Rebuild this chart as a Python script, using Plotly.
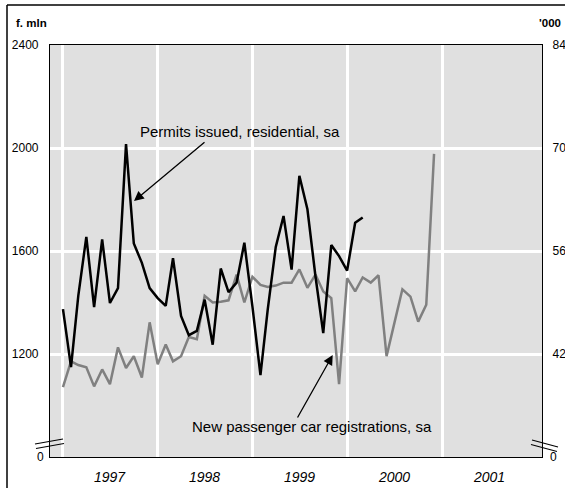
import pandas as pd
import plotly.graph_objects as go

# ---- data ----
permits = [1374, 1149, 1426, 1655, 1382, 1645, 1398, 1456, 2015, 1629,
           1554, 1456, 1417, 1387, 1572, 1348, 1273, 1290, 1411, 1236,
           1532, 1440, 1477, 1632, 1385, 1118, 1372, 1616, 1736, 1528,
           1892, 1762, 1502, 1281, 1623, 1580, 1524, 1710, 1730]
cars = [37.5, 41.0, 40.5, 40.2, 37.6, 39.9, 37.9, 42.9, 40.1, 41.7,
        38.8, 46.3, 40.6, 43.3, 41.0, 41.7, 44.3, 44.0, 49.9, 49.0,
        49.1, 49.3, 52.8, 49.0, 52.5, 51.4, 51.1, 51.3, 51.7, 51.7,
        53.5, 51.0, 52.8, 50.5, 49.6, 37.9, 52.3, 50.5, 52.4, 51.7,
        52.7, 41.7, 46.2, 50.8, 49.8, 46.4, 48.7, 69.2]
permit_months = pd.date_range("1997-01-01", periods=len(permits), freq="MS")
car_months = pd.date_range("1997-01-01", periods=len(cars), freq="MS")

left_ticks = [1200, 1600, 2000, 2400]
right_ticks = [42, 56, 70, 84]
year_starts = ["1997-01-01", "1998-01-01", "1999-01-01", "2000-01-01", "2001-01-01"]
year_mid = ["1997-07-01", "1998-07-01", "1999-07-01", "2000-07-01", "2001-07-01"]
year_labels = ["1997", "1998", "1999", "2000", "2001"]

FONT = "Liberation Sans, Arial, sans-serif"
W, H = 565, 488
L, R, T, B = 50, 542, 45, 457


def px(x):
    return (x - L) / (R - L)


def py(y):
    return (B - y) / (B - T)


fig = go.Figure()
fig.add_trace(go.Scatter(x=car_months, y=cars, mode="lines",
                         line=dict(color="#808080", width=2.5),
                         yaxis="y", showlegend=False, hoverinfo="skip"))
fig.add_trace(go.Scatter(x=permit_months, y=permits, mode="lines",
                         line=dict(color="black", width=2.5),
                         yaxis="y2", showlegend=False, hoverinfo="skip"))

annotations = []
for xm, lab in zip(year_mid, year_labels):
    annotations.append(dict(x=xm, xref="x", y=py(477), yref="paper",
                            text="<i>" + lab + "</i>",
                            showarrow=False, font=dict(family=FONT, size=14, color="black"),
                            xanchor="center", yanchor="middle"))
annotations += [
    dict(x=px(14), y=py(23), xref="paper", yref="paper", text="<b>f. mln</b>",
         showarrow=False, xanchor="left", yanchor="middle",
         font=dict(family=FONT, size=11.5, color="black")),
    dict(x=px(563), y=py(23), xref="paper", yref="paper", text="<b>'000</b>",
         showarrow=False, xanchor="right", yanchor="middle",
         font=dict(family=FONT, size=11.5, color="black")),
    dict(x=px(40), y=py(457), xref="paper", yref="paper", text="0",
         showarrow=False, xanchor="center", yanchor="middle",
         font=dict(family=FONT, size=12, color="black")),
    dict(x=px(553), y=py(457), xref="paper", yref="paper", text="0",
         showarrow=False, xanchor="center", yanchor="middle",
         font=dict(family=FONT, size=12, color="black")),
    dict(x=px(240), y=py(131), xref="paper", yref="paper",
         text="Permits issued, residential, sa",
         showarrow=False, xanchor="center", yanchor="middle",
         font=dict(family=FONT, size=15, color="black")),
    dict(x=px(312), y=py(426), xref="paper", yref="paper",
         text="New passenger car registrations, sa",
         showarrow=False, xanchor="center", yanchor="middle",
         font=dict(family=FONT, size=15, color="black")),
    dict(x=px(134), y=py(201), xref="paper", yref="paper", text="",
         showarrow=True, axref="pixel", ayref="pixel", ax=72, ay=-60,
         arrowhead=2, arrowsize=1.5, arrowwidth=1.3, arrowcolor="black"),
    dict(x=px(332.7), y=py(355), xref="paper", yref="paper", text="",
         showarrow=True, axref="pixel", ayref="pixel", ax=-36, ay=64,
         arrowhead=2, arrowsize=1.5, arrowwidth=1.3, arrowcolor="black"),
]

shapes = [
    # outer frame (only top and left edges fall inside the picture)
    dict(type="line", xref="paper", yref="paper", x0=px(7), x1=px(580),
         y0=py(5), y1=py(5), line=dict(color="black", width=1.5)),
    dict(type="line", xref="paper", yref="paper", x0=px(7), x1=px(7),
         y0=py(5), y1=py(500), line=dict(color="black", width=1.5)),
    # axis break marks
    dict(type="line", xref="paper", yref="paper", x0=px(35), y0=py(444),
         x1=px(63), y1=py(439), line=dict(color="black", width=1.2)),
    dict(type="line", xref="paper", yref="paper", x0=px(36), y0=py(448.5),
         x1=px(64), y1=py(443.5), line=dict(color="black", width=1.2)),
    dict(type="line", xref="paper", yref="paper", x0=px(532), y0=py(440),
         x1=px(558), y1=py(447), line=dict(color="black", width=1.2)),
    dict(type="line", xref="paper", yref="paper", x0=px(531), y0=py(444.5),
         x1=px(557), y1=py(451.5), line=dict(color="black", width=1.2)),
]

fig.update_layout(
    width=W, height=H,
    margin=dict(l=L, r=W - R, t=T, b=H - B, pad=0, autoexpand=False),
    paper_bgcolor="white", plot_bgcolor="#e0e0e0",
    font=dict(family=FONT, size=12, color="black"),
    xaxis=dict(type="date", range=["1996-11-12", "2002-01-21"],
               tickvals=year_starts, showticklabels=False, ticks="",
               showgrid=True, gridcolor="white", gridwidth=2.5,
               showline=True, mirror=True, linecolor="black", linewidth=1.2,
               zeroline=False, automargin=False),
    yaxis=dict(range=[28, 84], side="right", tickvals=right_ticks,
               ticktext=[str(v) for v in right_ticks], ticks="",
               ticklabelstandoff=7, automargin=False,
               showgrid=True, gridcolor="white", gridwidth=2.5,
               showline=True, mirror=True, linecolor="black", linewidth=1.2,
               zeroline=False, tickfont=dict(size=12)),
    yaxis2=dict(range=[800, 2400], side="left", overlaying="y",
                tickvals=left_ticks, ticktext=[str(v) for v in left_ticks],
                ticks="", ticklabelstandoff=8, showgrid=False, automargin=False,
                showline=True, linecolor="black", linewidth=1.2,
                zeroline=False, tickfont=dict(size=12)),
    annotations=annotations,
    shapes=shapes,
)

fig.write_html("out.html",
               config={"displayModeBar": False},
               post_script="document.body.style.margin='0';"
                           "document.body.style.overflow='hidden';")
